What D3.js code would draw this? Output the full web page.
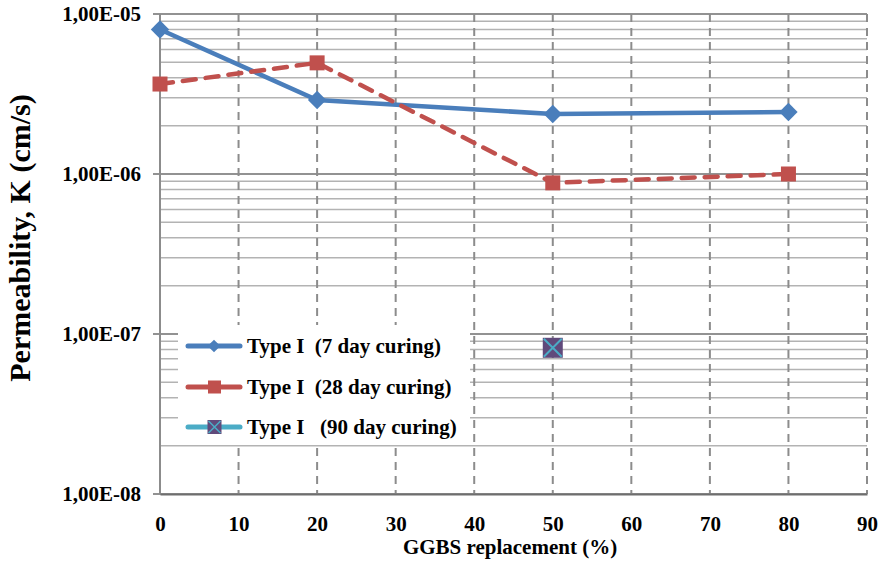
<!DOCTYPE html>
<html>
<head>
<meta charset="utf-8">
<script src="https://cdn.jsdelivr.net/npm/d3@7"></script>
<style>
  body { margin: 0; background: #fff; }
  text { font-family: "Liberation Serif", "Times New Roman", serif; font-weight: bold; fill: #000; }
</style>
</head>
<body>
<div id="chart"></div>
<script>
// data
var ggbs = [0, 20, 50, 80];
var k7 = [8.0e-6, 2.9e-6, 2.37e-6, 2.44e-6];
var k28 = [3.65e-6, 4.95e-6, 8.8e-7, 1.0e-6];
var ggbs90 = [50];
var k90 = [8.2e-8];
var xTicks = [0, 10, 20, 30, 40, 50, 60, 70, 80, 90];
var yTicks = [1e-5, 1e-6, 1e-7, 1e-8];
var seriesNames = ["Type I  (7 day curing)", "Type I  (28 day curing)", "Type I   (90 day curing)"];

var svgWidth = 879, svgHeight = 562;
var margin = { top: 14, right: 12, bottom: 68, left: 160 };
var width = svgWidth - margin.left - margin.right;
var height = svgHeight - margin.top - margin.bottom;

var svg = d3.select("#chart").append("svg")
  .attr("width", svgWidth)
  .attr("height", svgHeight);

var chartGroup = svg.append("g")
  .attr("transform", `translate(${margin.left}, ${margin.top})`);

var x = d3.scaleLinear().domain([0, 90]).range([0, width]);
var y = d3.scaleLog().domain([1e-8, 1e-5]).range([height, 0]);

// minor horizontal grid (2..9 x decade)
var minor = [];
[1e-8, 1e-7, 1e-6].forEach(function(d) {
  for (var m = 2; m <= 9; m++) minor.push(d * m);
});
chartGroup.append("g").selectAll("line")
  .data(minor).enter().append("line")
  .attr("x1", 0).attr("x2", width)
  .attr("y1", d => y(d)).attr("y2", d => y(d))
  .attr("stroke", "#b3b3b3").attr("stroke-width", 1.5);

// major horizontal grid
chartGroup.append("g").selectAll("line")
  .data(yTicks).enter().append("line")
  .attr("x1", -7).attr("x2", width)
  .attr("y1", d => y(d)).attr("y2", d => y(d))
  .attr("stroke", "#6e6e6e").attr("stroke-width", 1.5);

// vertical dashed grid
chartGroup.append("g").selectAll("line")
  .data(xTicks.slice(1)).enter().append("line")
  .attr("x1", d => x(d)).attr("x2", d => x(d))
  .attr("y1", 0).attr("y2", height)
  .attr("stroke", "#8c8c8c").attr("stroke-width", 2)
  .attr("stroke-dasharray", "8,6");

// left axis line
chartGroup.append("line")
  .attr("x1", 0).attr("x2", 0).attr("y1", 0).attr("y2", height)
  .attr("stroke", "#8c8c8c").attr("stroke-width", 2);

// bottom axis
var bottomAxis = d3.axisBottom(x).tickValues(xTicks).tickSize(0).tickPadding(22);
var gx = chartGroup.append("g")
  .attr("transform", `translate(0, ${height})`)
  .call(bottomAxis);
gx.select(".domain").attr("stroke", "#6e6e6e").attr("stroke-width", 2);
gx.selectAll("text").style("font-size", "21px").style("font-family", "Liberation Serif").style("font-weight", "bold");

// left axis labels
var leftAxis = d3.axisLeft(y).tickValues(yTicks).tickSize(0).tickPadding(19)
  .tickFormat(d => "1,00E-0" + Math.round(-Math.log10(d)));
var gy = chartGroup.append("g").call(leftAxis);
gy.select(".domain").remove();
gy.selectAll("text").style("font-size", "21px").style("font-family", "Liberation Serif").style("font-weight", "bold");

// legend background (covers grid)
var legend = chartGroup.append("g").attr("transform", "translate(18, 311)");
legend.append("rect").attr("x", 0).attr("y", 0).attr("width", 292).attr("height", 118).attr("fill", "#fff");

var line = d3.line().x(d => x(d[0])).y(d => y(d[1]));

// 7 day
var d7 = ggbs.map((g, i) => [g, k7[i]]);
chartGroup.append("path").datum(d7)
  .attr("d", line).attr("fill", "none")
  .attr("stroke", "#4a7ebb").attr("stroke-width", 4.5);
chartGroup.append("g").selectAll("path")
  .data(d7).enter().append("path")
  .attr("transform", d => `translate(${x(d[0])}, ${y(d[1])}) rotate(45)`)
  .attr("d", "M-6.5,-6.5H6.5V6.5H-6.5Z")
  .attr("fill", "#4a7ebb");

// 28 day
var d28 = ggbs.map((g, i) => [g, k28[i]]);
chartGroup.append("path").datum(d28)
  .attr("d", line).attr("fill", "none")
  .attr("stroke", "#c0504d").attr("stroke-width", 4.5)
  .attr("stroke-dasharray", "13,10").attr("stroke-linecap", "round");
chartGroup.append("g").selectAll("rect")
  .data(d28).enter().append("rect")
  .attr("x", d => x(d[0]) - 7.5).attr("y", d => y(d[1]) - 7.5)
  .attr("width", 15).attr("height", 15)
  .attr("fill", "#c0504d");

// 90 day
var d90 = ggbs90.map((g, i) => [g, k90[i]]);
var m90 = chartGroup.append("g").selectAll("g")
  .data(d90).enter().append("g")
  .attr("transform", d => `translate(${x(d[0])}, ${y(d[1])})`);
m90.append("rect").attr("x", -10).attr("y", -10).attr("width", 20).attr("height", 20)
  .attr("fill", "#604a7b");
m90.append("path").attr("d", "M-9,-9L9,9M9,-9L-9,9")
  .attr("stroke", "#4bacc6").attr("stroke-width", 2);

// legend entries
var legY = [21, 62, 102];
var legColors = ["#4a7ebb", "#c0504d", "#4bacc6"];
legY.forEach(function(ly, i) {
  var g = legend.append("g").attr("transform", `translate(0, ${ly})`);
  g.append("line").attr("x1", 10).attr("x2", 62).attr("y1", 0).attr("y2", 0)
    .attr("stroke", legColors[i]).attr("stroke-width", 5).attr("stroke-linecap", "round");
  if (i === 0) {
    g.append("path").attr("d", "M-4.5,-4.5H4.5V4.5H-4.5Z").attr("transform", "translate(36,0) rotate(45)").attr("fill", legColors[i]);
  } else if (i === 1) {
    g.append("rect").attr("x", 30).attr("y", -6.5).attr("width", 13).attr("height", 13).attr("fill", legColors[i]);
  } else {
    g.append("rect").attr("x", 29.5).attr("y", -7).attr("width", 14).attr("height", 14).attr("fill", "#604a7b");
    g.append("path").attr("d", "M30.5,-6L42.5,6M42.5,-6L30.5,6").attr("stroke", "#4bacc6").attr("stroke-width", 1.5);
  }
  g.append("text").attr("x", 69).attr("y", 7)
    .style("font-size", "21px")
    .attr("xml:space", "preserve")
    .text(seriesNames[i]);
});

// axis titles
svg.append("text")
  .attr("transform", "translate(30, 238) rotate(-90)")
  .attr("text-anchor", "middle")
  .style("font-size", "30px")
  .text("Permeability, K (cm/s)");

svg.append("text")
  .attr("x", 510)
  .attr("y", 554)
  .attr("text-anchor", "middle")
  .style("font-size", "21px")
  .text("GGBS replacement (%)");
</script>
</body>
</html>
